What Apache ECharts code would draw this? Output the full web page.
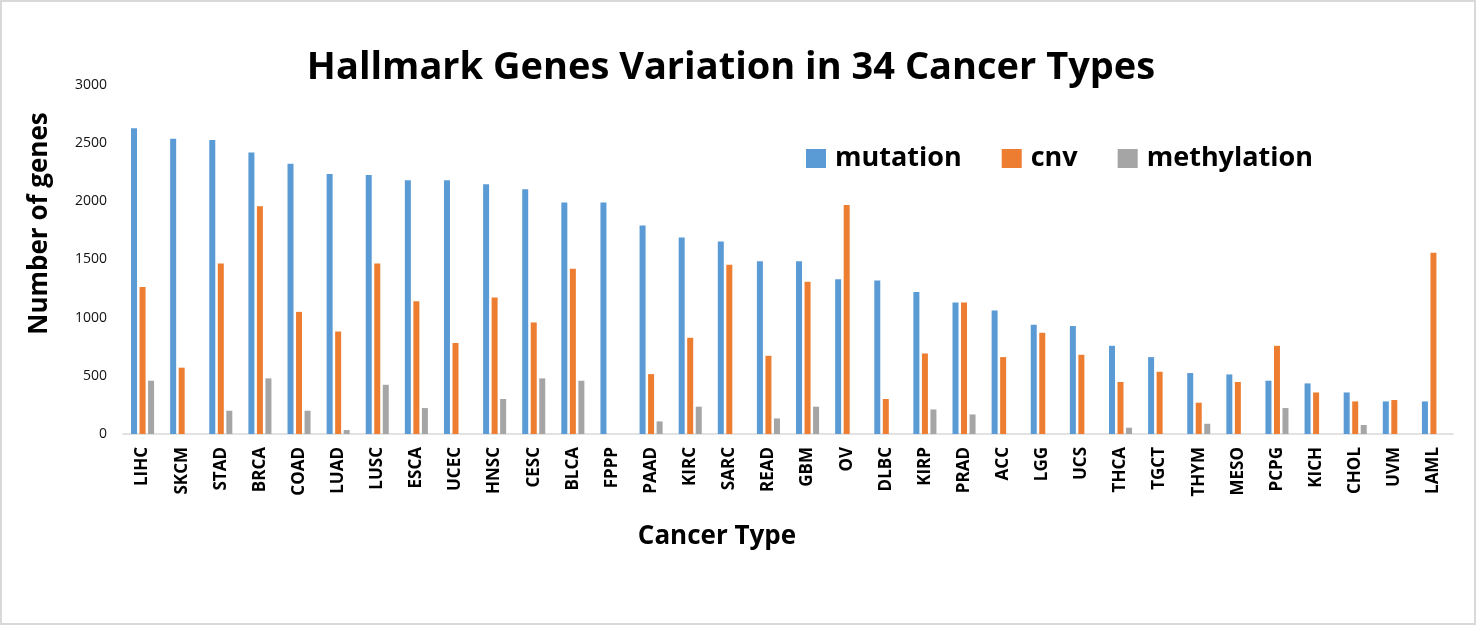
<!DOCTYPE html>
<html>
<head>
<meta charset="utf-8">
<script src="https://cdn.jsdelivr.net/npm/echarts@6/dist/echarts.min.js"></script>
<style>
  html, body { margin: 0; padding: 0; background: #fff; }
  #mainChart { width: 1476px; height: 625px; box-sizing: border-box; border: 2px solid #d9d9d9; }
</style>
</head>
<body>
<div id="mainChart"></div>
<script>
// categories, in the order they appear on the x axis
var cancerTypes = ['LIHC', 'SKCM', 'STAD', 'BRCA', 'COAD', 'LUAD', 'LUSC', 'ESCA', 'UCEC', 'HNSC',
    'CESC', 'BLCA', 'FPPP', 'PAAD', 'KIRC', 'SARC', 'READ', 'GBM', 'OV', 'DLBC',
    'KIRP', 'PRAD', 'ACC', 'LGG', 'UCS', 'THCA', 'TGCT', 'THYM', 'MESO', 'PCPG',
    'KICH', 'CHOL', 'UVM', 'LAML'];

// values (number of genes)
var mutation = [2628, 2539, 2528, 2419, 2324, 2236, 2227, 2182, 2182, 2147,
    2104, 1989, 1989, 1792, 1689, 1654, 1486, 1486, 1331, 1319,
    1220, 1130, 1062, 939, 928, 758, 661, 524, 512, 458,
    435, 357, 280, 280];
var cnv = [1263, 570, 1465, 1958, 1050, 881, 1465, 1142, 782, 1173,
    959, 1420, 0, 515, 827, 1454, 672, 1308, 1969, 301,
    692, 1130, 661, 870, 681, 447, 535, 269, 447, 758,
    357, 280, 292, 1557];
var methylation = [458, 0, 200, 478, 200, 34, 423, 223, 0, 301,
    478, 458, 0, 108, 235, 0, 134, 235, 0, 0,
    211, 168, 0, 0, 0, 54, 0, 88, 0, 223,
    0, 77, 0, 0];

var yTicks = [0, 500, 1000, 1500, 2000, 2500, 3000];

var font = "'Open Sans', 'Noto Sans', sans-serif";

document.addEventListener("DOMContentLoaded", function()
{
    var myChart = echarts.init(document.getElementById('mainChart'), null, {
        renderer: 'canvas'
    });

    var barSeries = function(name, data, color) {
        return {
            name: name,
            type: 'bar',
            data: data,
            barWidth: 6,
            barGap: '42%',
            itemStyle: { color: color },
            animation: false
        };
    };

    var option = {
        backgroundColor: '#ffffff',
        textStyle: { fontFamily: font },
        title: {
            text: 'Hallmark Genes Variation in 34 Cancer Types',
            left: 724,
            textAlign: 'center',
            top: 42,
            textStyle: {
                fontFamily: font,
                fontSize: 38,
                fontWeight: 'bold',
                color: '#000'
            }
        },
        legend: {
            left: 799,
            top: 138,
            itemWidth: 20,
            itemHeight: 19,
            itemGap: 40,
            icon: 'rect',
            textStyle: {
                fontFamily: font,
                fontSize: 27,
                fontWeight: 'bold',
                color: '#000',
                padding: [0, 0, 0, 4]
            }
        },
        grid: {
            left: 121,
            top: 83,
            right: 21,
            bottom: 189
        },
        xAxis: {
            type: 'category',
            data: cancerTypes,
            name: 'Cancer Type',
            nameLocation: 'middle',
            nameGap: 90,
            nameTextStyle: {
                fontFamily: font,
                fontSize: 26,
                fontWeight: 'bold',
                color: '#000',
                padding: [0, 142, 0, 0]
            },
            axisLine: { lineStyle: { color: '#d9d9d9', width: 1.5 } },
            axisTick: { show: false },
            axisLabel: {
                interval: 0,
                rotate: 90,
                margin: 13,
                fontFamily: font,
                fontSize: 17,
                fontWeight: 'bold',
                color: '#000'
            }
        },
        yAxis: {
            type: 'value',
            min: yTicks[0],
            max: yTicks[yTicks.length - 1],
            interval: 500,
            name: 'Number of genes',
            nameLocation: 'middle',
            nameGap: 70,
            nameTextStyle: {
                fontFamily: font,
                fontSize: 26,
                fontWeight: 'bold',
                color: '#000',
                padding: [0, 0, 0, 72]
            },
            axisLine: { show: false },
            axisTick: { show: false },
            splitLine: { show: false },
            axisLabel: {
                margin: 16,
                fontFamily: font,
                fontSize: 14,
                color: '#111',
                formatter: function(v) { return String(v); }
            }
        },
        series: [
            barSeries('mutation', mutation, '#5b9bd5'),
            barSeries('cnv', cnv, '#ed7d31'),
            barSeries('methylation', methylation, '#a5a5a5')
        ]
    };

    myChart.setOption(option);
});
</script>
</body>
</html>
